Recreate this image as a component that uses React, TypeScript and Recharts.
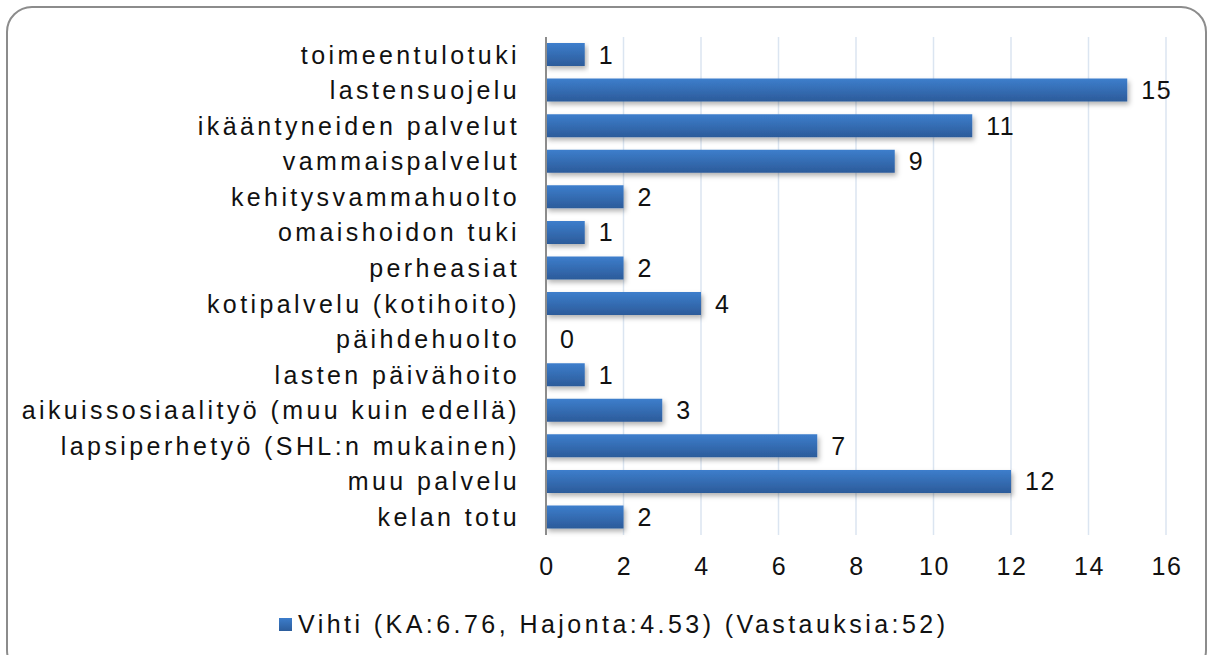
import React from 'react';
import { BarChart, Bar, XAxis, YAxis, CartesianGrid, LabelList, Legend } from 'recharts';

const categories = [
  'toimeentulotuki',
  'lastensuojelu',
  'ikääntyneiden palvelut',
  'vammaispalvelut',
  'kehitysvammahuolto',
  'omaishoidon tuki',
  'perheasiat',
  'kotipalvelu (kotihoito)',
  'päihdehuolto',
  'lasten päivähoito',
  'aikuissosiaalityö (muu kuin edellä)',
  'lapsiperhetyö (SHL:n mukainen)',
  'muu palvelu',
  'kelan totu',
];
const values = [1, 15, 11, 9, 2, 1, 2, 4, 0, 1, 3, 7, 12, 2];
const xTicks = [0, 2, 4, 6, 8, 10, 12, 14, 16];
const seriesName = 'Vihti (KA:6.76, Hajonta:4.53) (Vastauksia:52)';

const data = categories.map((c, i) => ({ name: c, value: values[i] }));

const FONT = '"Liberation Sans", Arial, sans-serif';

const YTick = (props: any) => {
  const { x, y, payload } = props;
  return (
    <text x={x} y={y} dy="0.35em" textAnchor="end" fontFamily={FONT} fontSize={25} fill="#111" letterSpacing={3.4}>
      {payload.value}
    </text>
  );
};

const XTick = (props: any) => {
  const { x, y, payload } = props;
  return (
    <text x={x + 1} y={y} dy="0.71em" textAnchor="middle" fontFamily={FONT} fontSize={25} fill="#111" letterSpacing={1.5}>
      {payload.value}
    </text>
  );
};

const ValueLabel = (props: any) => {
  const { x, y, width, height, value } = props;
  return (
    <text x={x + width + 14} y={y + height / 2} dy="0.36em" textAnchor="start" fontFamily={FONT} fontSize={25} fill="#111" letterSpacing={1.5}>
      {value}
    </text>
  );
};

const LegendContent = () => (
  <div style={{ display: 'flex', alignItems: 'center', justifyContent: 'flex-start', paddingLeft: 279, fontFamily: FONT, fontSize: 25, color: '#111', letterSpacing: 3.45, lineHeight: '30px' }}>
    <span style={{ display: 'inline-block', width: 13, height: 13, background: 'linear-gradient(#3c7dcb, #2c5d9c)', marginRight: 6 }} />
    <span>{seriesName}</span>
  </div>
);

export default function App() {
  return (
    <div style={{ position: 'absolute', left: 0, top: 0, width: 1210, height: 655, overflow: 'hidden', background: '#fff' }}>
      <div style={{ position: 'absolute', left: 6, top: 6, width: 1201, height: 670, border: '2px solid #8c8c8c', borderRadius: 26, boxSizing: 'border-box' }} />
      <div style={{ position: 'absolute', left: 0, top: 0 }}>
        <BarChart
          width={1210}
          height={655}
          data={data}
          layout="vertical"
          margin={{ top: 37, right: 44, bottom: 60, left: 0 }}
          barCategoryGap="17%"
        >
          <defs>
            <linearGradient id="barGrad" x1="0" y1="0" x2="0" y2="1">
              <stop offset="0%" stopColor="#3d7ecc" />
              <stop offset="100%" stopColor="#2c5b9a" />
            </linearGradient>
            <filter id="barShadow" x="-5%" y="-30%" width="115%" height="190%">
              <feDropShadow dx="2" dy="3" stdDeviation="2.5" floodColor="#000" floodOpacity="0.3" />
            </filter>
          </defs>
          <CartesianGrid horizontal={false} vertical stroke="#dbe5f1" strokeWidth={1.5} />
          <XAxis
            type="number"
            domain={[0, 16]}
            ticks={xTicks}
            axisLine={false}
            tickLine={false}
            tickSize={0}
            tickMargin={22}
            height={60}
            tick={<XTick />}
            interval={0}
          />
          <YAxis
            type="category"
            dataKey="name"
            width={546}
            axisLine={{ stroke: '#8c8c8c', strokeWidth: 2 }}
            tickLine={false}
            tickSize={0}
            tickMargin={26}
            tick={<YTick />}
            interval={0}
          />
          <Legend
            layout="horizontal"
            verticalAlign="middle"
            align="center"
            wrapperStyle={{ top: 609, left: 0, width: 1210 }}
            content={<LegendContent />}
          />
          <Bar
            dataKey="value"
            name={seriesName}
            fill="url(#barGrad)"
            filter="url(#barShadow)"
            minPointSize={0.01}
            isAnimationActive={false}
          >
            <LabelList dataKey="value" content={<ValueLabel />} />
          </Bar>
        </BarChart>
      </div>
    </div>
  );
}
